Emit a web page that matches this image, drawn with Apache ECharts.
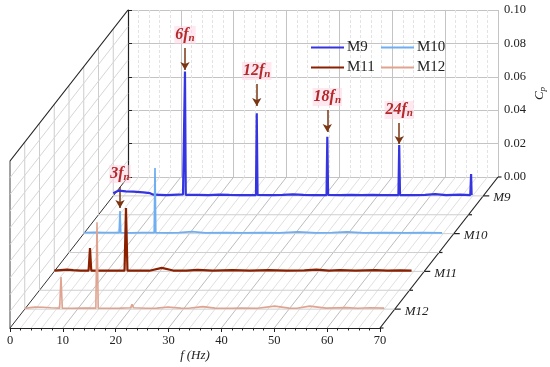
<!DOCTYPE html>
<html>
<head>
<meta charset="utf-8">
<script src="https://cdn.jsdelivr.net/npm/echarts@6/dist/echarts.min.js"></script>
<style>html,body{margin:0;padding:0;background:#fff}#c{width:550px;height:367px}</style>
</head>
<body>
<div id="c"></div>
<script>
// ---------------- data ----------------
const depthCats = ['M9', 'M10', 'M11', 'M12'];
const freqMin = 0, freqMax = 70, freqStep = 10;
const cpMin = 0, cpMax = 0.1, cpStep = 0.02;

const m9Freq = [0, 0.95, 2.4, 3.8, 5.7, 6.95, 7.6, 10.1, 13.2, 13.42, 13.57, 13.72, 16, 18, 20, 22, 24, 27.0, 27.15, 27.3, 30, 32, 34, 36, 38, 40.35, 40.5, 40.65, 43, 45, 47, 49, 51, 53.95, 54.1, 54.25, 57, 59, 60.9, 63, 65.6, 67.55, 67.7, 67.8];
const m9Cp   = [0.0016, 0.0031, 0.0027, 0.0025, 0.0021, 0.0016, 0.0007, 0.0005, 0.0009, 0.0009, 0.0744, 0.0006, 0.0006, 0.0005, 0.0008, 0.0006, 0.0005, 0.0005, 0.0495, 0.0006, 0.0005, 0.0006, 0.0009, 0.0006, 0.0005, 0.0005, 0.0354, 0.0006, 0.0005, 0.0006, 0.0005, 0.0006, 0.0005, 0.0005, 0.0305, 0.0005, 0.0005, 0.0006, 0.0011, 0.0005, 0.0007, 0.0005, 0.0131, 0.0005];

const m10Freq = [0, 2, 4, 6.7, 6.86, 7.0, 9, 11, 13.33, 13.48, 13.63, 16, 18, 20.5, 23, 27, 30, 34, 37, 40.5, 44, 47, 49.8, 53, 57, 61, 64, 67.8];
const m10Cp   = [0.0006, 0.0007, 0.0006, 0.0006, 0.0135, 0.0006, 0.0005, 0.0006, 0.0006, 0.0393, 0.0006, 0.0005, 0.0006, 0.0012, 0.0005, 0.0006, 0.0005, 0.0006, 0.0005, 0.0011, 0.0005, 0.0006, 0.0010, 0.0005, 0.0006, 0.0005, 0.0006, 0.0005];

const m11Freq = [0, 1.2, 2.4, 3.6, 5, 6.5, 6.76, 7.0, 9, 11, 13.3, 13.57, 13.85, 16, 18, 20.35, 22.5, 25, 27.1, 30, 33.7, 37, 40.5, 44, 47.3, 49.6, 52, 54, 57, 60.8, 63, 65.5, 67.6];
const m11Cp   = [0.0004, 0.0008, 0.0011, 0.0008, 0.0005, 0.0005, 0.0140, 0.0005, 0.0004, 0.0005, 0.0005, 0.0380, 0.0005, 0.0005, 0.0004, 0.0021, 0.0005, 0.0004, 0.0009, 0.0005, 0.0008, 0.0004, 0.0007, 0.0004, 0.0006, 0.0011, 0.0005, 0.0007, 0.0004, 0.0007, 0.0004, 0.0006, 0.0005];

const m12Freq = [0, 1, 2, 3.5, 5, 6.6, 6.86, 7.1, 9, 11, 13.45, 13.67, 13.9, 16, 18, 20.0, 20.3, 20.6, 23, 25, 27.1, 29.5, 31, 33.7, 36, 39, 41, 44, 47.3, 50, 51.5, 53.9, 57, 60.8, 63, 65.3, 68];
const m12Cp   = [0.0004, 0.0009, 0.0012, 0.0011, 0.0008, 0.0006, 0.0192, 0.0006, 0.0005, 0.0006, 0.0006, 0.0520, 0.0006, 0.0005, 0.0006, 0.0008, 0.0028, 0.0008, 0.0005, 0.0006, 0.0013, 0.0006, 0.0005, 0.0015, 0.0006, 0.0005, 0.0006, 0.0005, 0.0018, 0.0006, 0.0005, 0.0018, 0.0006, 0.0009, 0.0005, 0.0008, 0.0006];

// harmonic annotations: series index, label multiple, frequency, arrow start / end (Cp)
const annSeries = [0, 0, 0, 0, 1];
const annMult   = ['6', '12', '18', '24', '3'];
const annFreq   = [13.57, 27.15, 40.5, 54.1, 6.86];
const annFrom   = [0.0886, 0.0670, 0.0514, 0.0437, 0.0279];
const annTo     = [0.0754, 0.0538, 0.0383, 0.0311, 0.0153];

// ---------------- layout / style ----------------
const FONT = 'Liberation Serif';
const BACK = {left: 128, top: 10, width: 370, height: 167};
const DEPTH = [-118, 151];
const colors = ['#3434e0', '#70aef2', '#8a2000', '#e0a390'];
const widths = [2.2, 1.7, 2.2, 1.6];
const RED = '#b3282a';
const ARROW = '#7a3512';

function gridAt(d) {
  return {left: BACK.left + DEPTH[0] * d, top: BACK.top + DEPTH[1] * d,
          width: BACK.width, height: BACK.height, outerBoundsMode: 'none', containLabel: false};
}
const seriesDepth = depthCats.map((_, i) => (i + 0.5) / depthCats.length);
const grids = [gridAt(0)].concat(seriesDepth.map(gridAt)).concat([gridAt(1)]);

function hiddenX(i) { return {type: 'value', gridIndex: i, min: freqMin, max: freqMax, interval: freqStep, show: false}; }
function hiddenY(i) { return {type: 'value', gridIndex: i, min: cpMin, max: cpMax, interval: cpStep, show: false}; }

const xAxes = [{
  type: 'value', gridIndex: 0, min: freqMin, max: freqMax, interval: freqStep,
  axisLine: {show: false}, axisTick: {show: false}, axisLabel: {show: false},
  splitLine: {show: true, lineStyle: {color: '#c4c4c4', width: 1}},
  minorTick: {show: false, splitNumber: 5},
  minorSplitLine: {show: true, lineStyle: {color: '#e3e3e3', width: 1, type: [3, 2]}}
}];
for (let i = 1; i <= 4; i++) xAxes.push(hiddenX(i));
xAxes.push({
  type: 'value', gridIndex: 5, min: freqMin, max: freqMax, interval: freqStep, position: 'bottom',
  axisLine: {show: true, onZero: false, lineStyle: {color: '#222', width: 1.2}},
  axisTick: {show: true, inside: false, length: 4, lineStyle: {color: '#222'}},
  minorTick: {show: true, splitNumber: 5, length: 2.5, lineStyle: {color: '#222'}},
  axisLabel: {show: true, color: '#222', fontFamily: FONT, fontSize: 12.5, margin: 6},
  splitLine: {show: false},
  name: '{i|f} {i|(Hz)}', nameLocation: 'middle', nameGap: 21,
  nameTextStyle: {rich: {i: {fontFamily: FONT, fontStyle: 'italic', fontSize: 13, color: '#222'}}}
});

const yAxes = [{
  type: 'value', gridIndex: 0, min: cpMin, max: cpMax, interval: cpStep, position: 'right',
  axisLine: {show: true, lineStyle: {color: '#222', width: 1.2}},
  axisTick: {show: true, inside: false, length: 4, lineStyle: {color: '#222'}},
  axisLabel: {show: true, color: '#222', fontFamily: FONT, fontSize: 12.5, margin: 6,
              formatter: v => v.toFixed(2)},
  splitLine: {show: true, lineStyle: {color: '#c4c4c4', width: 1}},
  name: '{c|C}{p|p}', nameLocation: 'middle', nameGap: 34, nameRotate: 90, nameMoveOverlap: false,
  nameTextStyle: {rich: {
    c: {fontFamily: FONT, fontStyle: 'italic', fontSize: 13, color: '#222'},
    p: {fontFamily: FONT, fontStyle: 'italic', fontSize: 9, color: '#222', padding: [6, 0, 0, 0]}
  }}
}];
for (let i = 1; i <= 5; i++) yAxes.push(hiddenY(i));

// frame helpers (drawn through grid 0 scale, pushed along depth)
function shift(p, d) { return [p[0] + DEPTH[0] * d, p[1] + DEPTH[1] * d]; }
function seg(p, q, color, w, dash) {
  return {type: 'line', silent: true, shape: {x1: p[0], y1: p[1], x2: q[0], y2: q[1]},
          style: {stroke: color, lineWidth: w, lineDash: dash || null}};
}
const floorFreqs = []; for (let f = freqMin; f <= freqMax + 1e-9; f += 2) floorFreqs.push([f, 0]);
const wallCps = []; for (let k = 0; k <= 10; k++) wallCps.push([0, k / 100]);
const depthSteps = []; for (let k = 0; k <= 8; k++) depthSteps.push([k / 8, 0]);

const frameSeries = [
  { // floor lines along depth at each frequency
    type: 'custom', xAxisIndex: 0, yAxisIndex: 0, z: 1, silent: true, data: floorFreqs,
    renderItem: (params, api) => {
      const f = api.value(0);
      const p = api.coord([f, 0]);
      let color = Math.abs(f % 10) < 1e-6 ? '#bdbdbd' : '#e0e0e0';
      let w = 1;
      if (f === freqMin) { color = '#333'; w = 1; }
      if (f === freqMax) { color = '#222'; w = 1.2; }
      return seg(p, shift(p, 1), color, w);
    }
  },
  { // floor lines along frequency at each depth step
    type: 'custom', xAxisIndex: 0, yAxisIndex: 0, z: 1, silent: true, data: depthSteps,
    renderItem: (params, api) => {
      const d = api.value(0);
      const p = shift(api.coord([freqMin, 0]), d), q = shift(api.coord([freqMax, 0]), d);
      if (d === 0 || d === 1) return null;
      return seg(p, q, '#cfcfcf', 1);
    }
  },
  { // left wall: vertical lines at each depth step
    type: 'custom', xAxisIndex: 0, yAxisIndex: 0, z: 1, silent: true, data: depthSteps,
    renderItem: (params, api) => {
      const d = api.value(0);
      const p = shift(api.coord([freqMin, cpMin]), d), q = shift(api.coord([freqMin, cpMax]), d);
      if (d === 0) return null;
      return seg(p, q, d === 1 ? '#444' : '#cdcdcd', 1);
    }
  },
  { // left wall: lines along depth at each Cp level
    type: 'custom', xAxisIndex: 0, yAxisIndex: 0, z: 1, silent: true, data: wallCps,
    renderItem: (params, api) => {
      const v = api.value(1);
      if (v === 0) return null;
      const p = api.coord([freqMin, v]);
      const top = Math.abs(v - cpMax) < 1e-9;
      return seg(p, shift(p, 1), top ? '#222' : '#d6d6d6', top ? 1.2 : 1);
    }
  },
  { // depth axis ticks and labels
    type: 'custom', xAxisIndex: 0, yAxisIndex: 0, z: 3, silent: true, data: depthSteps,
    renderItem: (params, api) => {
      const d = api.value(0);
      const k = Math.round(d * 8);
      const p = shift(api.coord([freqMax, 0]), d);
      const major = k % 2 === 1;
      const children = [seg(p, [p[0] + (major ? 6 : 3.5), p[1]], '#222', 1.2)];
      if (major) {
        children.push({type: 'text', silent: true, x: p[0] + 10, y: p[1] + 2,
          style: {text: depthCats[(k - 1) / 2], fill: '#222', fontFamily: FONT, fontStyle: 'italic',
                  fontSize: 13, align: 'left', verticalAlign: 'middle'}});
      }
      return {type: 'group', children};
    }
  }
];

const pairs = [[m9Freq, m9Cp], [m10Freq, m10Cp], [m11Freq, m11Cp], [m12Freq, m12Cp]];
const richLabel = {
  n: {fontFamily: FONT, fontSize: 16, fontWeight: 'bold', fontStyle: 'italic', color: RED},
  s: {fontFamily: FONT, fontSize: 11, fontWeight: 'bold', fontStyle: 'italic', color: RED, padding: [7, 0, 0, 0]}
};
const dataSeries = depthCats.map((name, i) => {
  const marks = [];
  annSeries.forEach((si, j) => {
    if (si !== i) return;
    marks.push([{coord: [annFreq[j], annFrom[j]], label: {formatter: '{n|' + annMult[j] + 'f}{s|n}'}},
                {coord: [annFreq[j], annTo[j]]}]);
  });
  return {
    name, type: 'line', xAxisIndex: i + 1, yAxisIndex: i + 1, z: 5 + i,
    data: pairs[i][0].map((f, k) => [f, pairs[i][1][k]]),
    symbol: 'none', showSymbol: false, smooth: false,
    lineStyle: {color: colors[i], width: widths[i]}, itemStyle: {color: colors[i]},
    emphasis: {disabled: true}, animation: false,
    markLine: marks.length ? {
      silent: true, animation: false, symbol: ['none', 'arrow'], symbolSize: [7, 8], precision: 4,
      lineStyle: {color: ARROW, width: 1.5, type: 'solid'},
      label: {show: true, position: 'start', distance: 4, rich: richLabel,
              backgroundColor: 'rgba(255,214,228,0.55)', padding: [0, 1]},
      emphasis: {disabled: true},
      data: marks
    } : undefined
  };
});

const legendBase = {
  orient: 'vertical', top: 35, itemWidth: 33, itemHeight: 14, itemGap: 5,
  textStyle: {fontFamily: FONT, fontSize: 15, color: '#222', padding: [0, 0, 0, -2]},
  selectedMode: false, icon: 'path://M0,6 L33,6 L33,8 L0,8 Z'
};
const option = {
  animation: false,
  backgroundColor: '#fff',
  textStyle: {fontFamily: FONT},
  grid: grids,
  xAxis: xAxes,
  yAxis: yAxes,
  legend: [
    Object.assign({}, legendBase, {left: 306, data: ['M9', 'M11']}),
    Object.assign({}, legendBase, {left: 376, data: ['M10', 'M12']})
  ],
  series: frameSeries.concat(dataSeries)
};
const chart = echarts.init(document.getElementById('c'), null, {renderer: 'canvas'});
chart.setOption(option);
</script>
</body>
</html>
